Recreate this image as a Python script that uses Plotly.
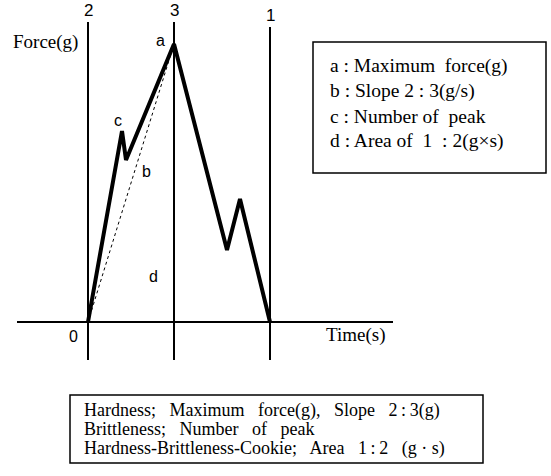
import plotly.graph_objects as go

# Force–time curve of a texture analyser run (arbitrary units)
time_s = [0.0, 1.7, 1.9, 4.3, 6.95, 7.6, 9.1]
force_g = [0.0, 9.55, 8.1, 13.9, 3.6, 6.15, 0.0]

# Reference markers on the time axis (start 2, peak 3, end 1)
marker_labels = ["2", "3", "1"]
marker_times = [0.0, 4.3, 9.1]
marker_tops = [15.0, 15.0, 14.75]
marker_bottom = -1.9

# Time axis extent
axis_time = [-3.55, 15.25]

NB = "\u00a0"
legend_lines = [
    "a" + NB + ": Maximum" + NB + " force(g)",
    "b" + NB + ": Slope 2" + NB + ": 3(g/s)",
    "c" + NB + ": Number of" + NB + " peak",
    "d" + NB + ": Area of" + NB + " 1" + NB + " : 2(g\u00d7s)",
]
GAP = NB * 2 + " "
summary_lines = [
    "Hardness;" + GAP + "Maximum" + GAP + "force(g)," + GAP + "Slope" + GAP + "2\u2009:\u20093(g)",
    "Brittleness;" + GAP + "Number" + GAP + "of" + GAP + "peak",
    "Hardness-Brittleness-Cookie;" + GAP + "Area" + GAP + "1\u2009:\u20092" + GAP + "(g" + NB + "\u00b7" + NB + "s)",
]

W, H = 551, 476
SERIF = "Liberation Serif, Times New Roman, serif"
SANS = "Liberation Sans, Arial, sans-serif"

fig = go.Figure()

# time axis
fig.add_trace(go.Scatter(x=axis_time, y=[0, 0], mode="lines",
                         line=dict(color="black", width=2), hoverinfo="skip"))

# vertical markers
for t, top in zip(marker_times, marker_tops):
    fig.add_trace(go.Scatter(x=[t, t], y=[marker_bottom, top], mode="lines",
                             line=dict(color="black", width=2), hoverinfo="skip"))

# slope 2:3 (dotted chord from origin to maximum)
i_max = force_g.index(max(force_g))
fig.add_trace(go.Scatter(x=[time_s[0], time_s[i_max]], y=[force_g[0], force_g[i_max]],
                         mode="lines", line=dict(color="black", width=1, dash="dot"),
                         hoverinfo="skip"))

# force curve
fig.add_trace(go.Scatter(x=time_s, y=force_g, mode="lines",
                         line=dict(color="black", width=4), hoverinfo="skip"))

ann = []
for lab, t, top in zip(marker_labels, marker_times, marker_tops):
    ann.append(dict(x=t, y=top, text=lab, xref="x", yref="y", showarrow=False,
                    yanchor="bottom", font=dict(family=SANS, size=17, color="black")))

def label(x, y, text, family, size):
    ann.append(dict(x=x, y=y, text=text, xref="x", yref="y", showarrow=False,
                    font=dict(family=family, size=size, color="black")))

label(-2.15, 14.0, "Force(g)", SERIF, 19)
label(3.6, 14.1, "a", SANS, 16)
label(1.5, 10.1, "c", SANS, 16)
label(2.9, 7.55, "b", SANS, 16)
label(3.25, 2.3, "d", SANS, 16)
label(-0.75, -0.7, "0", SANS, 16)
label(13.35, -0.65, "Time(s)", SERIF, 19)

def px(x):
    return x / W

def py(y):
    return 1 - y / H

shapes = [
    dict(type="rect", xref="paper", yref="paper", x0=px(313), x1=px(546),
         y0=py(173), y1=py(42), line=dict(color="black", width=1.5)),
    dict(type="rect", xref="paper", yref="paper", x0=px(70), x1=px(483),
         y0=py(463), y1=py(395), line=dict(color="black", width=1.5)),
]

for k, txt in enumerate(legend_lines):
    ann.append(dict(x=px(328), y=py(66 + 25 * k), xref="paper", yref="paper",
                    text=txt, showarrow=False, xanchor="left", yanchor="middle",
                    font=dict(family=SERIF, size=19.5, color="black")))

for k, txt in enumerate(summary_lines):
    ann.append(dict(x=px(82), y=py(410 + 19 * k), xref="paper", yref="paper",
                    text=txt, showarrow=False, xanchor="left", yanchor="middle",
                    font=dict(family=SERIF, size=18, color="black")))

fig.update_layout(
    width=W, height=H, margin=dict(l=0, r=0, t=0, b=0),
    paper_bgcolor="white", plot_bgcolor="white", showlegend=False,
    xaxis=dict(range=[-4.4, 23.15], visible=False, fixedrange=True),
    yaxis=dict(range=[-7.7, 16.1], visible=False, fixedrange=True),
    annotations=ann, shapes=shapes,
)

fig.write_html("out.html")
